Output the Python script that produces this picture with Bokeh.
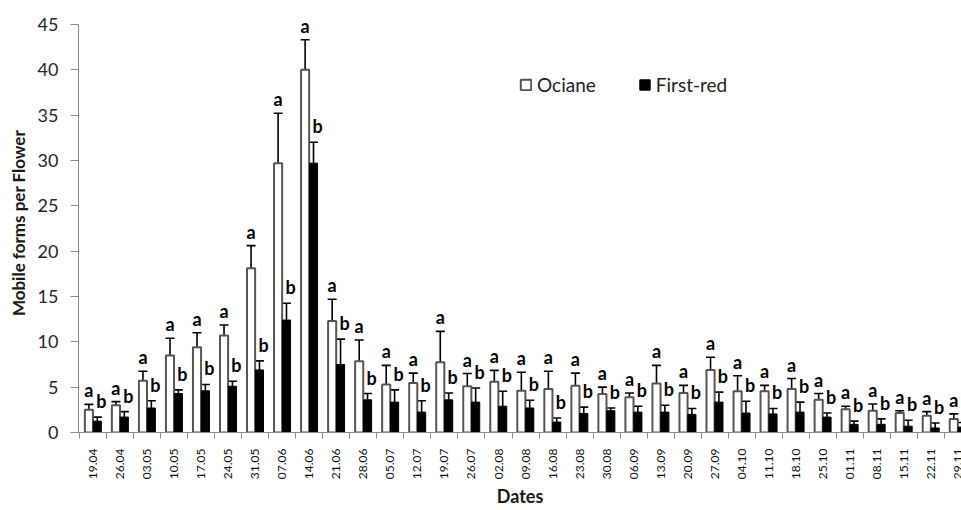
import numpy as np
from bokeh.plotting import figure
from bokeh.models import (Range1d, FixedTicker, Legend, LegendItem,
                          ColumnDataSource, Whisker, TeeHead)
from bokeh.core.properties import value
from bokeh.embed import file_html
from bokeh.resources import INLINE

dates = ["19.04", "26.04", "03.05", "10.05", "17.05", "24.05", "31.05", "07.06",
         "14.06", "21.06", "28.06", "05.07", "12.07", "19.07", "26.07", "02.08",
         "09.08", "16.08", "23.08", "30.08", "06.09", "13.09", "20.09", "27.09",
         "04.10", "11.10", "18.10", "25.10", "01.11", "08.11", "15.11", "22.11",
         "29.11"]
ociane = [2.5, 3.0, 5.7, 8.5, 9.4, 10.7, 18.1, 29.7, 40.0, 12.3, 7.85, 5.3, 5.45,
          7.75, 5.1, 5.6, 4.6, 4.8, 5.15, 4.25, 3.9, 5.4, 4.35, 6.9, 4.55, 4.55,
          4.8, 3.6, 2.55, 2.4, 2.15, 1.85, 1.5]
ociane_se = [0.6, 0.4, 1.05, 1.9, 1.6, 1.15, 2.5, 5.5, 3.3, 2.4, 2.35, 2.1, 1.1,
             3.4, 1.4, 1.25, 2.05, 1.95, 1.4, 0.75, 0.45, 2.0, 0.85, 1.4, 1.7, 0.65,
             1.15, 0.7, 0.35, 0.75, 0.25, 0.45, 0.55]
first_red = [1.25, 1.7, 2.7, 4.3, 4.6, 5.1, 6.9, 12.4, 29.7, 7.5, 3.6, 3.35, 2.25,
             3.6, 3.35, 2.9, 2.7, 1.15, 2.1, 2.4, 2.25, 2.25, 2.0, 3.35, 2.15, 2.05,
             2.25, 1.7, 0.9, 0.9, 0.7, 0.5, 0.6]
first_red_se = [0.45, 0.6, 0.8, 0.4, 0.7, 0.55, 1.0, 1.85, 2.3, 2.8, 0.7, 1.35, 1.25,
                0.75, 1.55, 1.65, 0.85, 0.45, 0.7, 0.3, 0.65, 0.75, 0.65, 1.1, 1.3,
                0.6, 1.1, 0.45, 0.35, 0.6, 0.65, 0.55, 0.5]
sig_ociane = ["a"] * len(dates)
sig_first_red = ["b"] * len(dates)
y_ticks = [0, 5, 10, 15, 20, 25, 30, 35, 40, 45]

FONT = "Lato"
n = len(dates)
idx = np.arange(n)
off = 0.155
bw = 0.30

src_o = ColumnDataSource(dict(x=idx - off, top=ociane,
                              up=np.array(ociane) + np.array(ociane_se),
                              lab=sig_ociane))
src_f = ColumnDataSource(dict(x=idx + off, top=first_red,
                              up=np.array(first_red) + np.array(first_red_se),
                              lab=sig_first_red, xl=idx + off + 0.15))

p = figure(width=961, height=510, output_backend="svg", toolbar_location=None,
           x_range=Range1d(-0.54, 32.13), y_range=Range1d(0, 46.2),
           min_border_left=78, min_border_right=0, min_border_top=13,
           min_border_bottom=77)
p.outline_line_color = None
p.grid.visible = False
p.background_fill_color = "white"
p.border_fill_color = "white"

r_o = p.vbar(x="x", top="top", width=bw, bottom=0, source=src_o,
             fill_color="white", line_color="#555555", line_width=2)
r_f = p.vbar(x="x", top="top", width=bw, bottom=0, source=src_f,
             fill_color="black", line_color="black", line_width=1)

for src in (src_o, src_f):
    w = Whisker(base="x", lower="top", upper="up", source=src,
                line_color="black", line_width=1.6,
                upper_head=TeeHead(size=9, line_color="black", line_width=1.6),
                lower_head=None)
    p.add_layout(w)

p.text(x="x", y="up", text="lab", source=src_o, text_align="center",
       text_baseline="bottom", y_offset=-3, text_font=value(FONT),
       text_font_style="bold", text_font_size="18px", text_color="black")
p.text(x="xl", y="up", text="lab", source=src_f, text_align="center",
       text_baseline="bottom", y_offset=-5, text_font=value(FONT),
       text_font_style="bold", text_font_size="18px", text_color="black")

# y axis
p.yaxis.ticker = FixedTicker(ticks=y_ticks)
p.yaxis.bounds = (0, 45)
p.yaxis.major_tick_out = 8
p.yaxis.major_tick_in = 0
p.yaxis.minor_tick_out = 0
p.yaxis.minor_tick_in = 0
p.yaxis.axis_line_color = "#8c8c8c"
p.yaxis.major_tick_line_color = "#8c8c8c"
p.yaxis.major_label_standoff = 12
p.yaxis.major_label_text_font = FONT
p.yaxis.major_label_text_font_size = "18px"
p.yaxis.major_label_text_color = "#262626"
p.yaxis.axis_label = "Mobile forms per Flower"
p.yaxis.axis_label_text_font = FONT
p.yaxis.axis_label_text_font_size = "17px"
p.yaxis.axis_label_text_font_style = "bold"
p.yaxis.axis_label_text_color = "#1a1a1a"
p.yaxis.axis_label_standoff = 6

# x axis
p.xaxis.ticker = FixedTicker(ticks=list(range(n)),
                             minor_ticks=[i - 0.5 for i in range(n + 1)])
p.xaxis.major_label_overrides = {i: d for i, d in enumerate(dates)}
p.xaxis.major_label_orientation = np.pi / 2
p.xaxis.major_tick_out = 0
p.xaxis.major_tick_in = 0
p.xaxis.minor_tick_out = 6
p.xaxis.minor_tick_in = 0
p.xaxis.axis_line_color = "#8c8c8c"
p.xaxis.minor_tick_line_color = "#8c8c8c"
p.xaxis.major_label_standoff = 10
p.xaxis.major_label_text_font = FONT
p.xaxis.major_label_text_font_size = "12px"
p.xaxis.major_label_text_color = "#111111"
p.xaxis.axis_label = "Dates"
p.xaxis.axis_label_standoff = 3
p.xaxis.axis_label_text_font = FONT
p.xaxis.axis_label_text_font_size = "18px"
p.xaxis.axis_label_text_font_style = "bold"
p.xaxis.axis_label_text_color = "#1a1a1a"

legend = Legend(items=[LegendItem(label="Ociane", renderers=[r_o]),
                       LegendItem(label="First-red", renderers=[r_f])],
                location=(441, 336), orientation="horizontal",
                border_line_color=None, background_fill_alpha=0,
                padding=0, margin=0, spacing=42, glyph_width=13,
                glyph_height=13, label_standoff=5,
                label_text_font=FONT, label_text_font_size="19px",
                label_text_color="#222222")
p.add_layout(legend)

open("out.html", "w").write(file_html(p, INLINE))
